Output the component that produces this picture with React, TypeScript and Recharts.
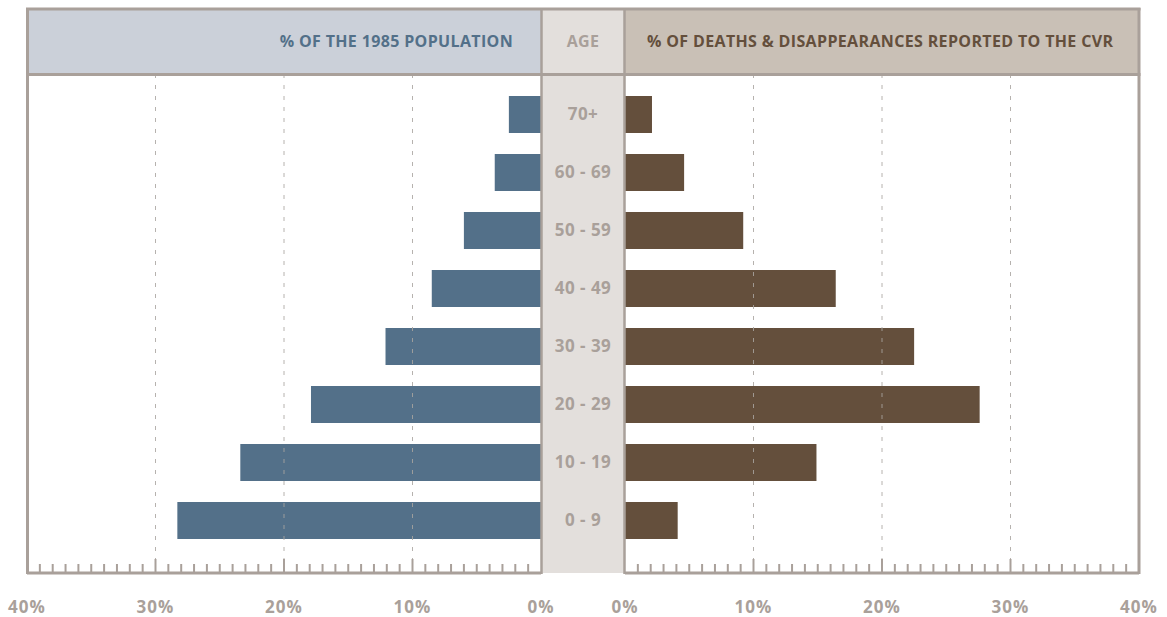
import React from 'react';
import { BarChart, Bar, XAxis, YAxis, ReferenceLine } from 'recharts';

// ---- data (top to bottom as drawn) ----
const ageGroups = ['70+', '60 - 69', '50 - 59', '40 - 49', '30 - 39', '20 - 29', '10 - 19', '0 - 9'];
const populationPct = [2.5, 3.6, 6.0, 8.5, 12.1, 17.9, 23.4, 28.3];
const deathsPct = [2.1, 4.6, 9.2, 16.4, 22.5, 27.6, 14.9, 4.1];
const axisTicks = [0, 1, 2, 3, 4, 5, 6, 7, 8, 9, 10, 11, 12, 13, 14, 15, 16, 17, 18, 19, 20, 21, 22, 23, 24, 25, 26, 27, 28, 29, 30, 31, 32, 33, 34, 35, 36, 37, 38, 39, 40];
const gridValues = [10, 20, 30];
const headerLeft = '% OF THE 1985 POPULATION';
const headerCenter = 'AGE';
const headerRight = '% OF DEATHS & DISAPPEARANCES REPORTED TO THE CVR';

const data = ageGroups.map((age, i) => ({ age, pop: populationPct[i], deaths: deathsPct[i] }));

const FONT = '"Open Sans", "Noto Sans", sans-serif';
const GRAY = '#a9a09a';
const BLUE = '#537089';
const BROWN = '#644f3c';

const PctTick = (props: any) => {
  const { x, y, payload } = props;
  const v = payload.value as number;
  const major = v % 10 === 0;
  const edge = v === 0 || v === 40;
  return (
    <g>
      {!edge && (
        <line x1={x} x2={x} y1={y} y2={y - (major ? 14 : 9)} stroke={GRAY} strokeWidth={2} />
      )}
      {major && (
        <text x={x} y={y + 40} textAnchor="middle" fontFamily={FONT} fontWeight={700} fontSize={17} letterSpacing={1} fill={GRAY}>
          {`${v}%`}
        </text>
      )}
    </g>
  );
};

const AgeTick = (props: any) => {
  const { x, y, payload } = props;
  return (
    <text x={x - 42} y={y} dy="0.36em" textAnchor="middle" fontFamily={FONT} fontWeight={700} fontSize={17} letterSpacing={0.5} fill={GRAY}>
      {payload.value}
    </text>
  );
};

const yPad = { top: 10, bottom: 24 };

export default function App() {
  return (
    <div style={{ position: 'absolute', left: 0, top: 0, width: 1167, height: 617, background: '#fff', fontFamily: FONT }}>
      {/* background: header fills and center column */}
      <svg width={1167} height={617} style={{ position: 'absolute', left: 0, top: 0 }}>
        <rect x={27} y={8} width={514} height={67} fill="#cbd0d9" />
        <rect x={541} y={8} width={84} height={565} fill="#e3dfdc" />
        <rect x={625} y={8} width={514} height={67} fill="#c9c0b6" />
        <text x={513} y={47} textAnchor="end" fontFamily={FONT} fontWeight={700} fontSize={16} letterSpacing={0.35} fill={BLUE}>{headerLeft}</text>
        <text x={583} y={47} textAnchor="middle" fontFamily={FONT} fontWeight={700} fontSize={16} letterSpacing={0.35} fill={GRAY}>{headerCenter}</text>
        <text x={647} y={47} textAnchor="start" fontFamily={FONT} fontWeight={700} fontSize={16} letterSpacing={0.35} fill={BROWN}>{headerRight}</text>
      </svg>

      <div style={{ position: 'absolute', left: 0, top: 0 }}>
        <BarChart width={560} height={617} layout="vertical" data={data} margin={{ top: 75, right: 19, bottom: 0, left: 27 }}>
          <XAxis type="number" dataKey="pop" domain={[0, 40]} reversed ticks={axisTicks} interval={0} allowDataOverflow
            height={44} tickSize={0} tickMargin={0} tickLine={false} tick={<PctTick />}
            axisLine={{ stroke: GRAY, strokeWidth: 3 }} />
          <YAxis type="category" dataKey="age" hide padding={yPad} />
          <Bar dataKey="pop" fill={BLUE} barSize={37} isAnimationActive={false} />
          {gridValues.map((v) => (
            <ReferenceLine key={v} x={v} stroke="#a9a4a0" strokeOpacity={0.85} strokeDasharray="4 7" strokeWidth={1} />
          ))}
        </BarChart>
      </div>

      <div style={{ position: 'absolute', left: 500, top: 0 }}>
        <BarChart width={667} height={617} layout="vertical" data={data} margin={{ top: 75, right: 28, bottom: 0, left: 41 }}>
          <XAxis type="number" dataKey="deaths" domain={[0, 40]} ticks={axisTicks} interval={0} allowDataOverflow
            height={44} tickSize={0} tickMargin={0} tickLine={false} tick={<PctTick />}
            axisLine={{ stroke: GRAY, strokeWidth: 3 }} />
          <YAxis type="category" dataKey="age" width={84} padding={yPad} axisLine={false} tickLine={false}
            tickSize={0} tickMargin={0} tick={<AgeTick />} interval={0} />
          <Bar dataKey="deaths" fill={BROWN} barSize={37} isAnimationActive={false} />
          {gridValues.map((v) => (
            <ReferenceLine key={v} x={v} stroke="#a9a4a0" strokeOpacity={0.85} strokeDasharray="4 7" strokeWidth={1} />
          ))}
        </BarChart>
      </div>

      {/* frame */}
      <svg width={1167} height={617} style={{ position: 'absolute', left: 0, top: 0, pointerEvents: 'none' }}>
        <line x1={26} x2={1140.5} y1={9} y2={9} stroke={GRAY} strokeWidth={3} />
        <line x1={26} x2={1140.5} y1={74.5} y2={74.5} stroke={GRAY} strokeWidth={3} />
        <line x1={27.5} x2={27.5} y1={8} y2={574} stroke={GRAY} strokeWidth={3} />
        <line x1={1139} x2={1139} y1={8} y2={574} stroke={GRAY} strokeWidth={3} />
        <line x1={541.5} x2={541.5} y1={8} y2={574} stroke={GRAY} strokeWidth={2.5} />
        <line x1={624.5} x2={624.5} y1={8} y2={574} stroke={GRAY} strokeWidth={2.5} />
      </svg>
    </div>
  );
}
